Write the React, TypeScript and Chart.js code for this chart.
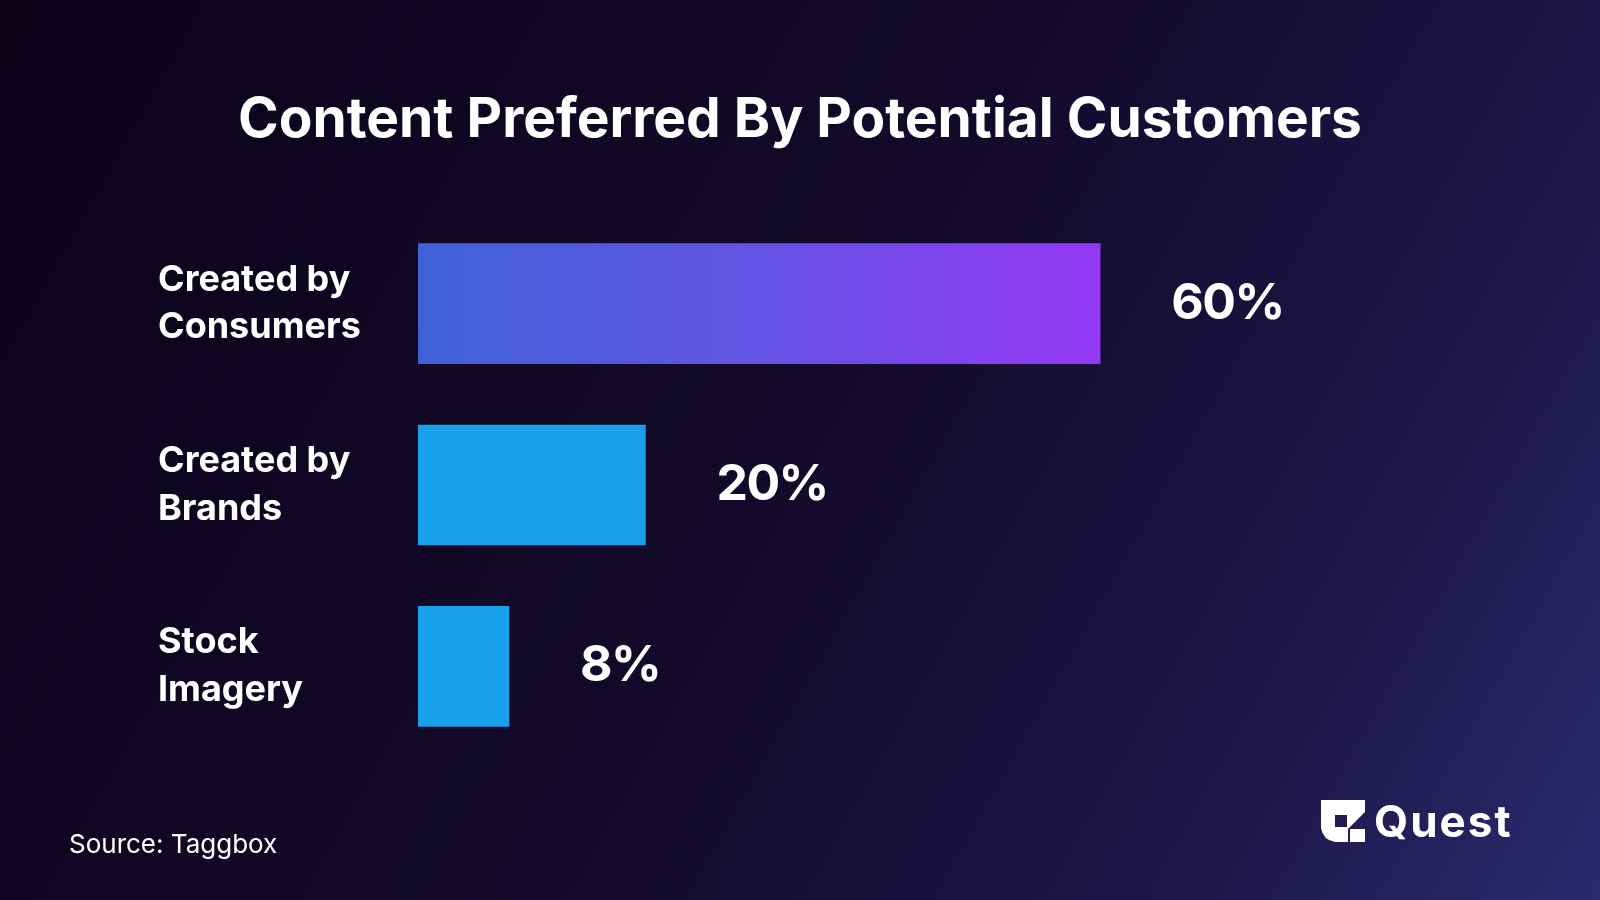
import React, { useEffect, useRef } from "react";
import { Chart, registerables } from "chart.js";

Chart.register(...registerables);

const categories: string[][] = [
  ["Created by", "Consumers"],
  ["Created by", "Brands"],
  ["Stock", "Imagery"],
];
const values: number[] = [60, 20, 8];
const valueLabels: string[] = ["60%", "20%", "8%"];
const titleText = "Content Preferred By Potential Customers";
const sourceText = "Source: Taggbox";
const brandText = "Quest";

const FONT = "Inter, 'Noto Sans', sans-serif";

export default function App() {
  const ref = useRef<HTMLCanvasElement | null>(null);

  useEffect(() => {
    document.body.style.margin = "0";
    const canvas = ref.current;
    if (!canvas) return;

    const bgPlugin = {
      id: "bg",
      beforeDraw(chart: any) {
        const { ctx, width, height } = chart;
        ctx.save();
        const g = ctx.createLinearGradient(0, 0, width, height);
        g.addColorStop(0, "#0a0318");
        g.addColorStop(0.5, "#130a2b");
        g.addColorStop(0.8, "#1d1648");
        g.addColorStop(1, "#2b2a6e");
        ctx.fillStyle = g;
        ctx.fillRect(0, 0, width, height);
        ctx.restore();
      },
    };

    const textPlugin = {
      id: "texts",
      afterDatasetsDraw(chart: any) {
        const { ctx } = chart;
        ctx.save();
        ctx.fillStyle = "#ffffff";
        // value labels
        const meta = chart.getDatasetMeta(0);
        ctx.font = `700 50px ${FONT}`;
        (ctx as any).letterSpacing = "-1.5px";
        ctx.textAlign = "left";
        ctx.textBaseline = "middle";
        meta.data.forEach((bar: any, i: number) => {
          ctx.fillText(valueLabels[i], bar.x + 71, bar.y);
        });
        (ctx as any).letterSpacing = "0px";
        // title
        ctx.font = `700 55px ${FONT}`;
        ctx.textAlign = "center";
        ctx.textBaseline = "alphabetic";
        ctx.fillText(titleText, 800, 137);
        // source
        ctx.font = `400 26px ${FONT}`;
        ctx.textAlign = "left";
        ctx.fillText(sourceText, 69, 853);
        // brand
        ctx.font = `700 44px ${FONT}`;
        (ctx as any).letterSpacing = "2px";
        ctx.fillText(brandText, 1374, 837);
        (ctx as any).letterSpacing = "0px";
        // logo icon
        const ox = 1321, oy = 800;
        ctx.beginPath();
        ctx.moveTo(ox, oy);
        ctx.lineTo(ox + 44, oy);
        ctx.lineTo(ox + 44, oy + 12);
        ctx.lineTo(ox + 27, oy + 29);
        ctx.lineTo(ox + 27, oy + 42);
        ctx.lineTo(ox + 14, oy + 42);
        ctx.quadraticCurveTo(ox + 2, oy + 40, ox, oy + 28);
        ctx.closePath();
        ctx.rect(ox + 14, oy + 15, 12, 12);
        ctx.fill("evenodd");
        ctx.fillRect(ox + 29, oy + 29, 15, 13);
        ctx.restore();
      },
    };

    const chart = new Chart(canvas, {
      type: "bar",
      data: {
        labels: categories,
        datasets: [
          {
            data: values,
            barThickness: 120,
            borderWidth: 0,
            backgroundColor: (c: any) => {
              if (c.dataIndex !== 0) return "#19a0eb";
              const ch = c.chart;
              if (!ch.chartArea) return "#6253e4";
              const x0 = ch.scales.x.getPixelForValue(0);
              const x1 = ch.scales.x.getPixelForValue(values[0]);
              const g = ch.ctx.createLinearGradient(x0, 0, x1, 0);
              g.addColorStop(0, "#4062d8");
              g.addColorStop(0.5, "#6453e5");
              g.addColorStop(1, "#9438f3");
              return g;
            },
          },
        ],
      },
      options: {
        indexAxis: "y",
        animation: false,
        responsive: false,
        devicePixelRatio: 1,
        layout: { padding: { left: 158, right: 45, top: 213, bottom: 143 } },
        plugins: {
          legend: { display: false },
          title: { display: false },
          tooltip: { enabled: false },
        },
        scales: {
          x: { display: false, min: 0, max: 100 },
          y: {
            grid: { display: false },
            border: { display: false },
            ticks: {
              color: "#ffffff",
              font: { family: FONT, size: 36, weight: "bold", lineHeight: 1.33 },
              crossAlign: "far",
              padding: 0,
            },
            afterFit: (scale: any) => {
              scale.width = 260;
            },
          },
        },
      },
      plugins: [bgPlugin, textPlugin],
    } as any);

    return () => chart.destroy();
  }, []);

  return (
    <div style={{ position: "fixed", left: 0, top: 0, width: 1600, height: 900 }}>
      <canvas ref={ref} width={1600} height={900} style={{ width: 1600, height: 900, display: "block" }} />
    </div>
  );
}
